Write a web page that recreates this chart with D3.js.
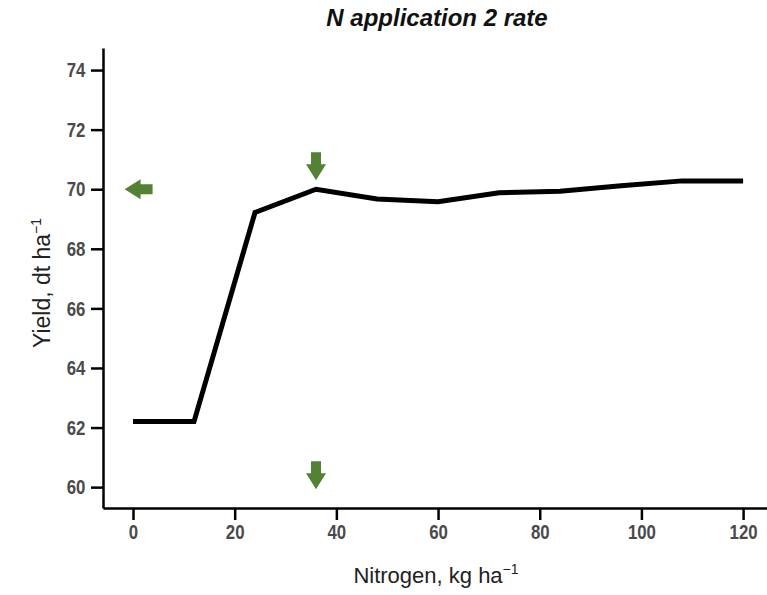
<!DOCTYPE html>
<html>
<head>
<meta charset="utf-8">
<script src="https://cdn.jsdelivr.net/npm/d3@7"></script>
<style>
  body { margin: 0; background: #fff; }
  svg { display: block; font-family: "Liberation Sans", Arial, sans-serif; }
</style>
</head>
<body>
<svg id="chart"></svg>
<script>
// data
const nitrogen = [0, 12, 24, 36, 48, 60, 72, 84, 96, 108, 120];
const yieldValues = [62.2, 62.2, 69.22, 70.0, 69.67, 69.58, 69.88, 69.93, 70.12, 70.28, 70.28];
const xTicks = [0, 20, 40, 60, 80, 100, 120];
const yTicks = [60, 62, 64, 66, 68, 70, 72, 74];
// green arrows: position in data units + direction
const arrowX = [1.1, 36, 36];
const arrowY = [70, 70.77, 60.4];
const arrowDir = ["left", "down", "down"];

const width = 767, height = 595;
const svg = d3.select("#chart").attr("width", width).attr("height", height);

const x = d3.scaleLinear([-5.9, 124.7], [103, 767]);
const y = d3.scaleLinear([59.3, 74.74], [508, 48]);

// title
svg.append("text")
  .attr("x", 437).attr("y", 26)
  .attr("text-anchor", "middle")
  .style("font-size", "24px").style("font-weight", "bold").style("font-style", "italic")
  .attr("fill", "#111")
  .text("N application 2 rate");

// axes
const gx = svg.append("g").attr("transform", `translate(0,${y.range()[0]})`)
  .call(d3.axisBottom(x).tickValues(xTicks).tickSize(12).tickPadding(3).tickSizeOuter(0));
const gy = svg.append("g").attr("transform", `translate(${x.range()[0]},0)`)
  .call(d3.axisLeft(y).tickValues(yTicks).tickSize(12).tickPadding(10).tickSizeOuter(0));

[gx, gy].forEach(g => {
  g.select(".domain").attr("stroke", "#000").attr("stroke-width", 2.5);
  g.selectAll(".tick line").attr("stroke", "#000").attr("stroke-width", 2.5);
  // narrow-looking bold digits
  g.selectAll(".tick text")
    .attr("fill", "#4a4a4a")
    .attr("transform", "scale(0.8,1)")
    .style("font-size", "21px").style("font-weight", "bold");
});
gx.selectAll(".tick text").attr("dy", "0.78em");

// axis titles
const xt = svg.append("text")
  .attr("x", 436).attr("y", 583)
  .attr("text-anchor", "middle")
  .style("font-size", "22px").attr("fill", "#222")
  .text("Nitrogen, kg ha");
xt.append("tspan").attr("dy", -9).style("font-size", "14px").text("\u22121");

const yt = svg.append("text")
  .attr("transform", "translate(50,283) rotate(-90)")
  .attr("text-anchor", "middle")
  .style("font-size", "23px").attr("fill", "#222")
  .text("Yield, dt ha");
yt.append("tspan").attr("dy", -9).style("font-size", "14px").text("\u22121");

// line
const pts = nitrogen.map((n, i) => [n, yieldValues[i]]);
svg.append("path")
  .datum(pts)
  .attr("fill", "none")
  .attr("stroke", "#000")
  .attr("stroke-width", 5)
  .attr("stroke-linejoin", "miter")
  .attr("d", d3.line().x(d => x(d[0])).y(d => y(d[1])));

// arrows (shape drawn pointing down, centred at 0,0)
const arrowPath = "M-5,-14 L5,-14 L5,-2 L10,-2 L0,14 L-10,-2 L-5,-2 Z";
svg.append("g").selectAll("path")
  .data(arrowX.map((ax, i) => ({ x: ax, y: arrowY[i], dir: arrowDir[i] })))
  .join("path")
  .attr("d", arrowPath)
  .attr("fill", "#548235")
  .attr("transform", d => `translate(${x(d.x)},${y(d.y)}) rotate(${d.dir === "left" ? 90 : 0})`);
</script>
</body>
</html>
